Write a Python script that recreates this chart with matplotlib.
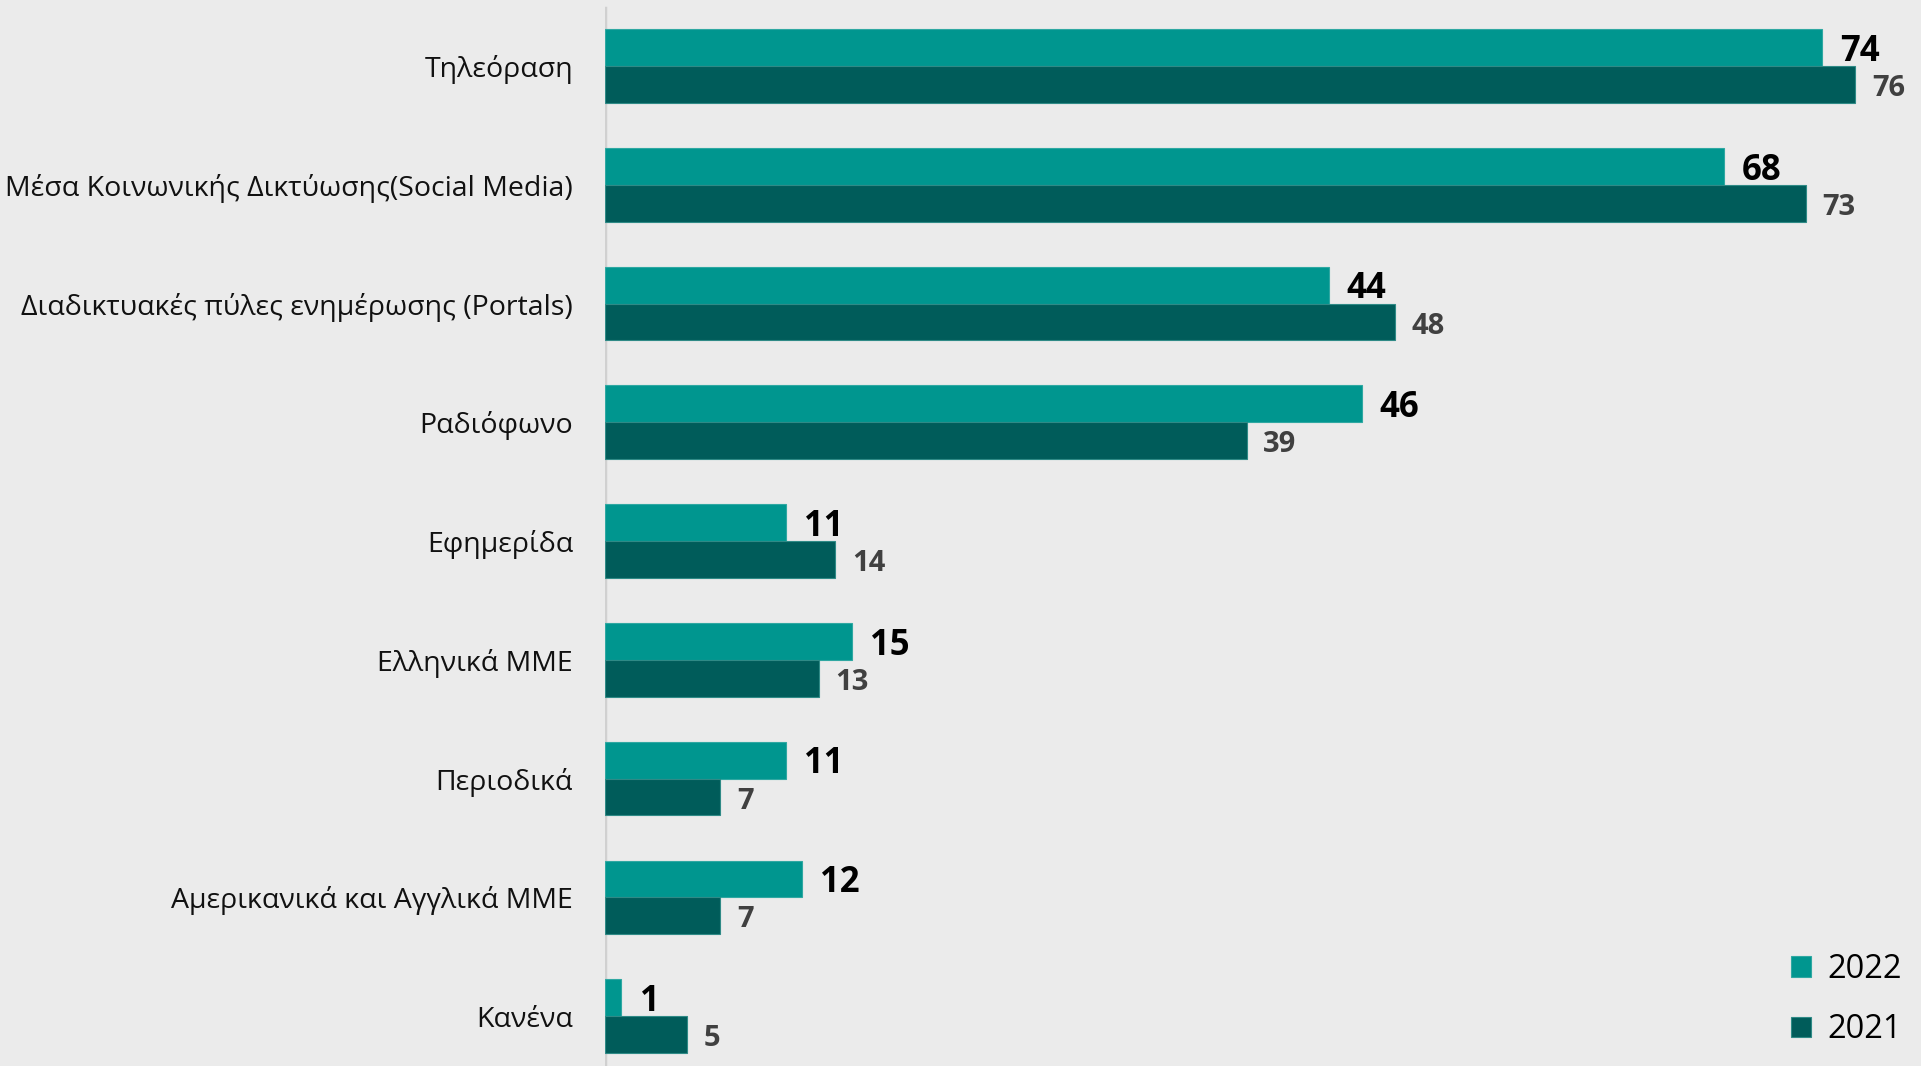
import matplotlib.pyplot as plt
import numpy as np

kategories = ["Τηλεόραση", "Μέσα Κοινωνικής Δικτύωσης(Social Media)",
              "Διαδικτυακές πύλες ενημέρωσης (Portals)", "Ραδιόφωνο",
              "Εφημερίδα", "Ελληνικά ΜΜΕ", "Περιοδικά",
              "Αμερικανικά και Αγγλικά ΜΜΕ", "Κανένα"]
etos_2022 = [74, 68, 44, 46, 11, 15, 11, 12, 1]
etos_2021 = [76, 73, 48, 39, 14, 13, 7, 7, 5]

plt.rcParams['font.family'] = ['Open Sans', 'DejaVu Sans']

bg = "#ebebeb"
fig = plt.figure(figsize=(19.21, 10.66), dpi=100, facecolor=bg)
ax = fig.add_axes([605 / 1921, 0, 1 - 605 / 1921, 1])
ax.set_facecolor(bg)

y = np.arange(len(kategories))
h = 0.31

b22 = ax.barh(y - h / 2, etos_2022, height=h, color="#00968f", label="2022",
              edgecolor="#2fa8a2", linewidth=0.8)
b21 = ax.barh(y + h / 2, etos_2021, height=h, color="#005c5a", label="2021",
              edgecolor="#2f8a86", linewidth=0.8)

for barra in b22:
    w = barra.get_width()
    ax.annotate(f"{w:g}", (w, barra.get_y() + barra.get_height() / 2),
                xytext=(13, -3), textcoords="offset points", ha="left", va="center",
                fontsize=25, fontweight="bold", color="black")
for barra in b21:
    w = barra.get_width()
    ax.annotate(f"{w:g}", (w, barra.get_y() + barra.get_height() / 2),
                xytext=(12, -3), textcoords="offset points", ha="left", va="center",
                fontsize=21, fontweight="bold", color="#404040")

ax.set_xlim(0, 80)
ax.set_ylim(8.42, -0.556)
ax.set_yticks(y)
ax.set_yticklabels(kategories, fontsize=20.5, color="#111111")
ax.tick_params(axis="y", length=0, pad=23)
ax.set_xticks([])
for s in ["top", "right", "bottom", "left"]:
    ax.spines[s].set_visible(False)
ax.axvline(0, ymin=0, ymax=1 - 8 / 1066, color="#d0d0d0", linewidth=2.5, zorder=0)

leg = ax.legend(loc="lower right", bbox_to_anchor=(1.0, 0.0), frameon=False,
                fontsize=23.5, handlelength=0.6, handleheight=0.6,
                labelspacing=0.85, handletextpad=0.5, borderaxespad=0.2)

fig.savefig("out.png", dpi=100, facecolor=bg)
